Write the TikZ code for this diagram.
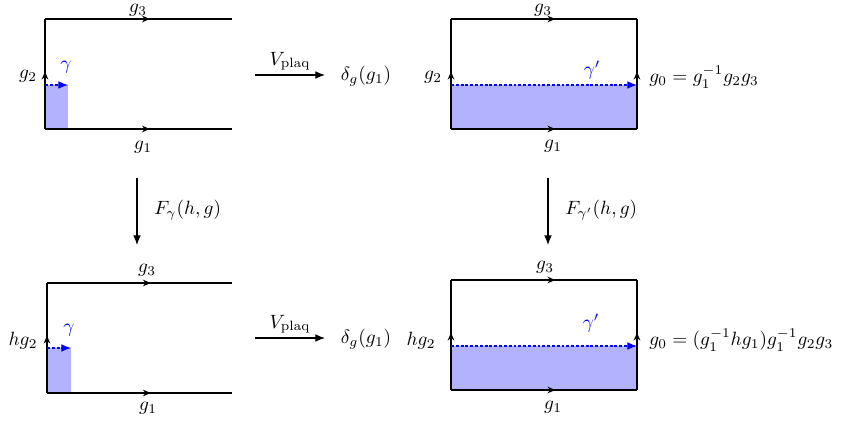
\documentclass[tikz,border=0pt]{standalone}
\usetikzlibrary{arrows.meta,decorations.markings}
\begin{document}
\begin{tikzpicture}[x=0.52pt,y=-0.52pt,
  edge/.style={line width=0.6pt},
  midarr/.style={postaction={decorate},decoration={markings,mark=at position #1 with {\arrow{Stealth[length=4pt,width=3.5pt]}}}},
  shade/.style={fill=blue!30,draw=none},
  gam/.style={blue,line width=0.6pt,dash pattern=on 1.5pt off 1pt,-{Latex[length=5pt,width=4pt]}},
  bigarr/.style={line width=0.6pt,-{Latex[length=5pt,width=4pt]}},
  lbl/.style={inner sep=1pt}
]
\useasboundingbox (0,0) rectangle (847,422);
% ---------- top left ----------
\fill[shade] (45,85) rectangle (68,129);
\coordinate (tlA) at (45,129); \coordinate (tlB) at (232,129);
\coordinate (tlC) at (45,19);  \coordinate (tlD) at (232,19);
\coordinate (tlG1) at (45,85); \coordinate (tlG2) at (68,85);
\draw[edge,midarr=0.56] (tlA) -- (tlB);
\draw[edge,midarr=0.56] (tlC) -- (tlD);
\draw[edge,midarr=0.52] (tlA) -- (tlC);
\draw[gam] (tlG1) -- (tlG2);
\node[lbl,inner sep=0pt] (tl3) at (138,10) {$g_3$};
\node[lbl] (tl1) at (143,147) {$g_1$};
\node[lbl] (tl2) at (28,76) {$g_2$};
\node[lbl,blue] (tlg) at (66,67) {$\gamma$};
% ---------- top right ----------
\fill[shade] (451,85) rectangle (637,129);
\coordinate (trA) at (451,129); \coordinate (trB) at (637,129);
\coordinate (trC) at (451,19);  \coordinate (trD) at (637,19);
\coordinate (trG1) at (451,85); \coordinate (trG2) at (637,85);
\draw[edge,midarr=0.56] (trA) -- (trB);
\draw[edge,midarr=0.56] (trC) -- (trD);
\draw[edge,midarr=0.52] (trA) -- (trC);
\draw[edge,midarr=0.52] (trB) -- (trD);
\draw[gam] (trG1) -- (trG2);
\node[lbl,inner sep=0pt] (tr3) at (543,10) {$g_3$};
\node[lbl] (tr1) at (553,146) {$g_1$};
\node[lbl] (tr2) at (433,77) {$g_2$};
\node[lbl,blue] (trg) at (592,70) {$\gamma'$};
\node[lbl,anchor=west] (tr0) at (647,77) {$g_0=g_1^{-1}g_2g_3$};
% ---------- middle arrows ----------
\coordinate (v1s) at (255,75); \coordinate (v1e) at (325,75);
\draw[bigarr] (v1s) -- (v1e) node[midway,above=1pt,lbl] (v1l) {$V_{\mathrm{plaq}}$};
\node[lbl] (d1) at (366,76) {$\delta_g(g_1)$};
\coordinate (f1s) at (137,178); \coordinate (f1e) at (137,245);
\draw[bigarr] (f1s) -- (f1e);
\node[lbl,anchor=west] (f1l) at (152,210) {$F_\gamma(h,g)$};
\coordinate (f2s) at (548,178); \coordinate (f2e) at (548,245);
\draw[bigarr] (f2s) -- (f2e);
\node[lbl,anchor=west] (f2l) at (563,210) {$F_{\gamma'}(h,g)$};
% ---------- bottom left ----------
\fill[shade] (47,348) rectangle (71,393);
\coordinate (blA) at (47,393); \coordinate (blB) at (232,393);
\coordinate (blC) at (47,283);  \coordinate (blD) at (232,283);
\coordinate (blG1) at (47,348); \coordinate (blG2) at (71,348);
\draw[edge,midarr=0.56] (blA) -- (blB);
\draw[edge,midarr=0.56] (blC) -- (blD);
\draw[edge,midarr=0.52] (blA) -- (blC);
\draw[gam] (blG1) -- (blG2);
\node[lbl] (bl3) at (147,270) {$g_3$};
\node[lbl] (bl1) at (148,408) {$g_1$};
\node[lbl] (bl2) at (23,341) {$hg_2$};
\node[lbl,blue] (blg) at (69,330) {$\gamma$};
% ---------- bottom right ----------
\fill[shade] (451,346) rectangle (637,390);
\coordinate (brA) at (451,390); \coordinate (brB) at (637,390);
\coordinate (brC) at (451,280);  \coordinate (brD) at (637,280);
\coordinate (brG1) at (451,346); \coordinate (brG2) at (637,346);
\draw[edge,midarr=0.56] (brA) -- (brB);
\draw[edge,midarr=0.56] (brC) -- (brD);
\draw[edge,midarr=0.52] (brA) -- (brC);
\draw[edge,midarr=0.52] (brB) -- (brD);
\draw[gam] (brG1) -- (brG2);
\node[lbl] (br3) at (545,267) {$g_3$};
\node[lbl] (br1) at (553,407) {$g_1$};
\node[lbl] (br2) at (421,341) {$hg_2$};
\node[lbl,blue] (brg) at (591,323) {$\gamma'$};
\node[lbl,anchor=west] (br0) at (647,340) {$g_0=(g_1^{-1}hg_1)g_1^{-1}g_2g_3$};
% ---------- bottom middle ----------
\coordinate (v2s) at (255,338); \coordinate (v2e) at (325,338);
\draw[bigarr] (v2s) -- (v2e) node[midway,above=1pt,lbl] (v2l) {$V_{\mathrm{plaq}}$};
\node[lbl] (d2) at (366,339) {$\delta_g(g_1)$};
\end{tikzpicture}
\end{document}
